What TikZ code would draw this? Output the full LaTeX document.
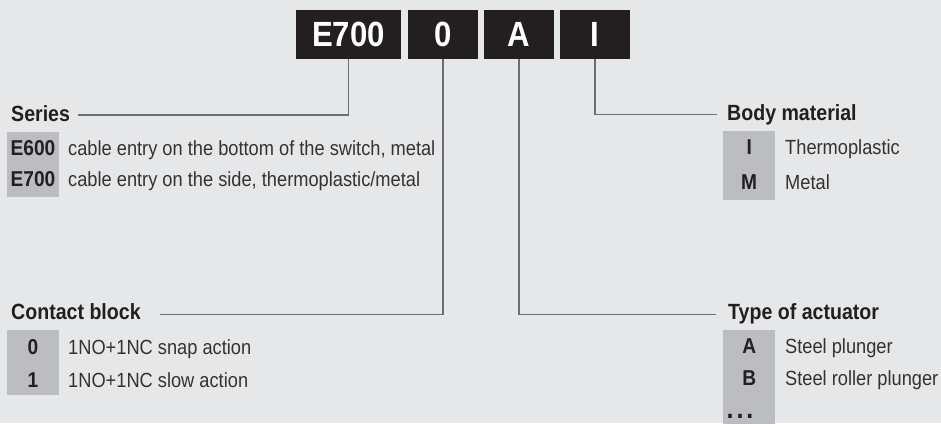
\documentclass[tikz,border=0pt]{standalone}
\usepackage{fontspec}
\setmainfont{Liberation Sans}[FakeStretch=0.89]
\usepackage{tikz}
\definecolor{bg}{RGB}{230,231,233}
\definecolor{ink}{RGB}{35,31,32}
\definecolor{txt}{RGB}{52,50,51}
\definecolor{codebg}{RGB}{188,189,192}
\definecolor{leadgray}{RGB}{109,110,113}

\tikzset{
  partbox/.style={fill=ink, text=white, font=\fontsize{35}{40}\selectfont\bfseries,
    minimum height=48.7pt, inner sep=0pt},
  header/.style={anchor=base west, inner sep=0pt, text=ink,
    font=\fontsize{22}{26}\selectfont\bfseries},
  codecol/.style={fill=codebg, minimum width=52pt, inner sep=0pt},
  code/.style={anchor=base, inner sep=0pt, text=ink,
    font=\fontsize{21.5}{25}\selectfont\bfseries},
  desc/.style={anchor=base west, inner sep=0pt, text=txt,
    font=\fontsize{20.5}{24}\selectfont},
  lead/.style={draw=leadgray, line width=1.3pt}
}

\begin{document}
\begin{tikzpicture}[x=1pt,y=-1pt]
    \fill[bg] (0,0) rectangle (941,423);
    \useasboundingbox (0,0) rectangle (941,423);

    % Part number
    \node[partbox, minimum width=105pt] (e700) at (348.5,34.3) {E700};
    \node[partbox, minimum width=70pt] (zero) at (443,34.3) {0};
    \node[partbox, minimum width=70pt] (act) at (519,34.3) {A};
    \node[partbox, minimum width=70pt] (mat) at (595,34.3) {I};

    % Series
    \node[header] (series) at (11,121) {Series};
    \node[codecol, minimum height=65pt] (seriescol) at (33,164.2) {};
    \node[code] (e600) at (33,155) {E600};
    \node[desc] (e600txt) at (68,155) {cable entry on the bottom of the switch, metal};
    \node[code] (e700code) at (33,186.7) {E700};
    \node[desc] (e700txt) at (68,186.7) {cable entry on the side, thermoplastic/metal};

    % Contact block
    \node[header] (contact) at (11,319) {Contact block};
    \node[codecol, minimum height=65pt] (contactcol) at (33,362.5) {};
    \node[code] (c0) at (33,354.3) {0};
    \node[desc] (c0txt) at (68,354.3) {1NO+1NC snap action};
    \node[code] (c1) at (33,387.3) {1};
    \node[desc] (c1txt) at (68,387.3) {1NO+1NC slow action};

    % Body material
    \node[header] (material) at (727,120) {Body material};
    \node[codecol, minimum height=69pt] (materialcol) at (749.2,165.5) {};
    \node[code] (mi) at (749.2,154.3) {I};
    \node[desc] (mitxt) at (785,154.3) {Thermoplastic};
    \node[code] (mm) at (749.2,189) {M};
    \node[desc] (mmtxt) at (785,189) {Metal};

    % Type of actuator
    \node[header] (actuator) at (728,319.3) {Type of actuator};
    \node[codecol, minimum height=94pt] (actuatorcol) at (749.2,377) {};
    \node[code] (aa) at (749.2,353.3) {A};
    \node[desc] (aatxt) at (785,353.3) {Steel plunger};
    \node[code] (ab) at (749.2,385) {B};
    \node[desc] (abtxt) at (785,385) {Steel roller plunger};
    \node[code, font=\fontsize{28}{30}\selectfont\bfseries] (adots) at (740,418.5)
        {.\kern3pt.\kern3pt.};

    % Leader lines
    \coordinate (seriesend) at (78,115);
    \coordinate (contactend) at (160,314.3);
    \coordinate (actuatorend) at (716,314.3);
    \coordinate (materialend) at (716.7,114.3);
    \draw[lead] (e700.south) |- (seriesend);
    \draw[lead] (zero.south) |- (contactend);
    \draw[lead] (act.south) |- (actuatorend);
    \draw[lead] (mat.south) |- (materialend);
\end{tikzpicture}
\end{document}
